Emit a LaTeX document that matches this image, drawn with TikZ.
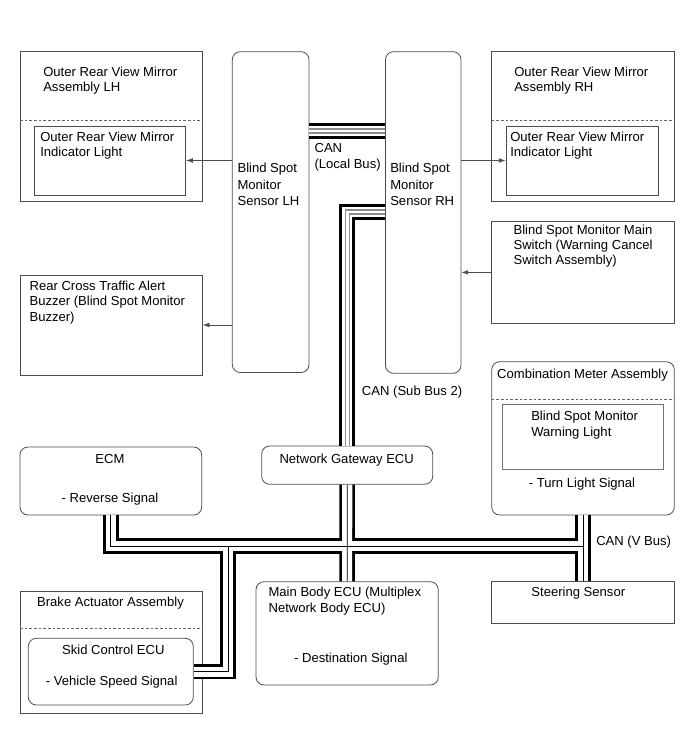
\documentclass[tikz,border=0pt]{standalone}
\usepackage{fontspec}
\setmainfont{Liberation Sans}
\usetikzlibrary{arrows.meta,fit}

\tikzset{
    unit/.style={draw=black!70, line width=0.6pt, inner sep=0pt},
    roundunit/.style={unit, rounded corners=6pt},
    divider/.style={draw=black!60, line width=0.5pt, dash pattern=on 2pt off 1.5pt},
    boxtext/.style={font=\fontsize{9.8}{11.3}\selectfont, inner sep=0pt, align=left, anchor=base west},
    midtext/.style={boxtext, anchor=base, align=center},
    sig/.style={draw=black!70, line width=0.5pt, -{Latex[length=5pt,width=3.5pt]}},
}

\begin{document}
\begin{tikzpicture}[x=0.75pt, y=-0.75pt]
    \useasboundingbox (0,0) rectangle (690,756);

    % boxes
    \node[unit, fit={(20,51.7) (202.3,201.7)}] (mirLH) {};
    \node[unit, fit={(34.3,126) (185.7,195)}] (inLH) {};
    \node[roundunit, fit={(232.3,51.7) (309,372.5)}] (senLH) {};
    \node[roundunit, fit={(385.5,51.7) (461,373.3)}] (senRH) {};
    \node[unit, fit={(491.7,51.7) (674.3,201.7)}] (mirRH) {};
    \node[unit, fit={(506,126) (658,195)}] (inRH) {};
    \node[unit, fit={(491.7,221.7) (674.3,323)}] (mainsw) {};
    \node[unit, fit={(20,275) (202.3,375)}] (buzzer) {};
    \node[roundunit, fit={(491.7,361.7) (674.3,515)}] (combo) {};
    \node[unit, draw=black!55, fit={(502.7,404.3) (663.3,469.3)}] (warn) {};
    \node[roundunit, fit={(20,447) (201.7,515)}] (ecm) {};
    \node[roundunit, fit={(261.7,446) (432.7,484.3)}] (gw) {};
    \node[unit, fit={(491.7,581.7) (674.3,623)}] (steer) {};
    \node[roundunit, fit={(256,581.7) (438.3,685)}] (body) {};
    \node[unit, fit={(20,591.7) (202.3,713.3)}] (brake) {};
    \node[roundunit, fit={(28.3,638.3) (193.3,705)}] (skid) {};

    % dashed dividers
    \draw[divider] (20,120) -- (202.3,120);
    \draw[divider] (491.7,120) -- (674.3,120);
    \draw[divider] (491.7,399.3) -- (674.3,399.3);
    \draw[divider] (20,628.3) -- (202.3,628.3);

    % texts (multi-line ones sit on the baseline of their last line)
    \node[boxtext] (tmirLH) at (43,91.3) {Outer Rear View Mirror\\Assembly LH};
    \node[boxtext] (tinLH) at (40,156.8) {Outer Rear View Mirror\\Indicator Light};
    \node[boxtext] (tmirRH) at (514,91.3) {Outer Rear View Mirror\\Assembly RH};
    \node[boxtext] (tinRH) at (510,156.8) {Outer Rear View Mirror\\Indicator Light};
    \node[boxtext, font=\fontsize{9.8}{12.3}\selectfont] (tsenLH) at (237.3,205.5) {Blind Spot\\Monitor\\Sensor LH};
    \node[boxtext, font=\fontsize{9.8}{12.3}\selectfont] (tsenRH) at (390,205.5) {Blind Spot\\Monitor\\Sensor RH};
    \node[boxtext, font=\fontsize{9.8}{11.7}\selectfont] (tlocal) at (314.3,168.3) {CAN\\(Local Bus)};
    \node[boxtext] (tmainsw) at (513.3,264.3) {Blind Spot Monitor Main\\Switch (Warning Cancel\\Switch Assembly)};
    \node[boxtext] (tbuzzer) at (29.3,321) {Rear Cross Traffic Alert\\Buzzer (Blind Spot Monitor\\Buzzer)};
    \node[boxtext] (tsub) at (361.7,395) {CAN (Sub Bus 2)};
    \node[midtext] (tcombo) at (582.5,378.3) {Combination Meter Assembly};
    \node[boxtext] (twarn) at (531,436) {Blind Spot Monitor\\Warning Light};
    \node[midtext] (tturn) at (582,487.3) {- Turn Light Signal};
    \node[midtext] (tecm) at (110,463.3) {ECM};
    \node[midtext] (trev) at (110,502.7) {- Reverse Signal};
    \node[midtext] (tgw) at (346.7,463.3) {Network Gateway ECU};
    \node[boxtext] (tvbus) at (596,545) {CAN (V Bus)};
    \node[midtext] (tsteer) at (578.3,596) {Steering Sensor};
    \node[boxtext] (tbody) at (268.3,612) {Main Body ECU (Multiplex\\Network Body ECU)};
    \node[midtext] (tdest) at (350.8,662.7) {- Destination Signal};
    \node[midtext] (tbrake) at (110.5,606) {Brake Actuator Assembly};
    \node[midtext] (tskid) at (113.3,654) {Skid Control ECU};
    \node[midtext] (tspeed) at (111.7,685) {- Vehicle Speed Signal};

    % signal lines
    \draw[sig] (senLH.west |- inLH.east) -- (inLH.east);
    \draw[sig] (senRH.east |- inRH.west) -- (inRH.west);
    \draw[sig] (mainsw.west) -- (mainsw.west -| senRH.east);
    \draw[sig] (senLH.west |- buzzer.east) -- (buzzer.east);

    % bus taps
    \coordinate (localy) at (0,131);
    \coordinate (subtap) at (347.2,212);
    \coordinate (busy) at (0,546);
    \coordinate (skidtap) at (228,546);

    % CAN local bus and sub bus 2 (two wires)
    \foreach \w/\c in {11.6pt/black, 7.6pt/white, 3.8pt/black!45, 2.2pt/white} {
        \draw[line width=\w, \c] (senLH.east |- localy) -- (senRH.west |- localy);
        \draw[line width=\w, \c] (subtap -| senRH.west) -- (subtap) -- (gw.north);
    }

    % CAN V bus
    \foreach \w/\c in {11.6pt/black, 7.6pt/white, 0.6pt/black} {
        \draw[line width=\w, \c] (ecm.south) -- (ecm.south |- busy) -- (combo.south |- busy);
        \draw[line width=\w, \c] (gw.south) -- (body.north);
        \draw[line width=\w, \c] (combo.south) -- (steer.north);
        \draw[line width=\w, \c] (skidtap) -- (skidtap |- skid.east) -- (skid.east);
    }
\end{tikzpicture}
\end{document}
